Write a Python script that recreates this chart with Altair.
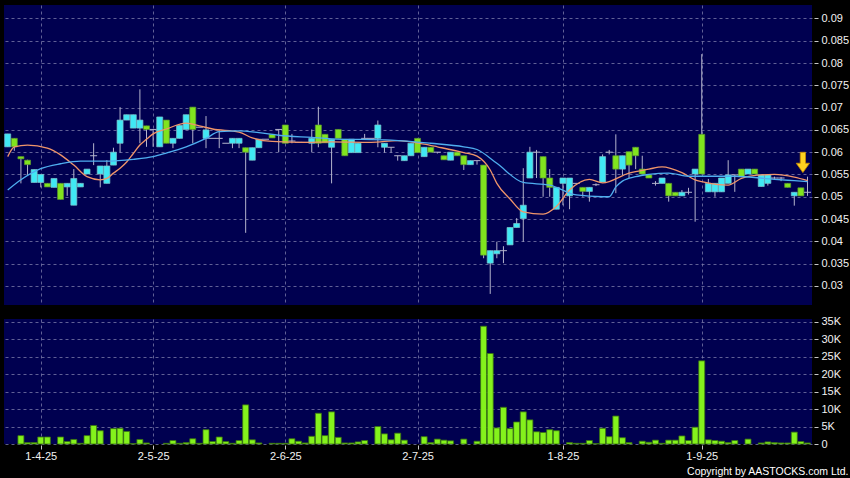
import altair as alt
import pandas as pd

# ---------------- data ----------------
opens = [
    0.0612, 0.0631, 0.0590, 0.0582, 0.0532, 0.0532, 0.0530, 0.0521, 0.0530, 0.0522,
    0.0481, 0.0522, 0.0551, 0.0592, 0.0551, 0.0530, 0.0571, 0.0620, 0.0672, 0.0654,
    0.0654, 0.0659, 0.0651, 0.0612, 0.0672, 0.0620, 0.0631, 0.0651, 0.0701, 0.0656,
    0.0631, 0.0631, 0.0631, 0.0620, 0.0620, 0.0620, 0.0610, 0.0582, 0.0610, 0.0629,
    0.0640, 0.0651, 0.0661, 0.0625, 0.0622, 0.0622, 0.0620, 0.0661, 0.0640, 0.0611,
    0.0651, 0.0629, 0.0599, 0.0599, 0.0631, 0.0631, 0.0631, 0.0611, 0.0611, 0.0592,
    0.0581, 0.0592, 0.0631, 0.0590, 0.0611, 0.0600, 0.0592, 0.0582, 0.0600, 0.0592,
    0.0572, 0.0581, 0.0571, 0.0351, 0.0372, 0.0379, 0.0392, 0.0431, 0.0451, 0.0542,
    0.0600, 0.0590, 0.0542, 0.0472, 0.0530, 0.0502, 0.0530, 0.0521, 0.0512, 0.0527,
    0.0533, 0.0600, 0.0592, 0.0562, 0.0601, 0.0611, 0.0562, 0.0549, 0.0530, 0.0530,
    0.0530, 0.0510, 0.0502, 0.0510, 0.0551, 0.0640, 0.0511, 0.0511, 0.0511, 0.0530,
    0.0549, 0.0562, 0.0551, 0.0562, 0.0523, 0.0530, 0.0542, 0.0542, 0.0530, 0.0502,
    0.0520, 0.0510]
highs = [
    0.0641, 0.0631, 0.0590, 0.0583, 0.0561, 0.0550, 0.0530, 0.0541, 0.0530, 0.0530,
    0.0562, 0.0530, 0.0562, 0.0620, 0.0569, 0.0582, 0.0610, 0.0701, 0.0684, 0.0684,
    0.0741, 0.0659, 0.0651, 0.0679, 0.0672, 0.0631, 0.0660, 0.0684, 0.0701, 0.0656,
    0.0681, 0.0631, 0.0650, 0.0620, 0.0631, 0.0631, 0.0610, 0.0610, 0.0629, 0.0629,
    0.0640, 0.0651, 0.0661, 0.0641, 0.0622, 0.0622, 0.0651, 0.0702, 0.0640, 0.0629,
    0.0651, 0.0629, 0.0629, 0.0620, 0.0641, 0.0631, 0.0671, 0.0620, 0.0611, 0.0592,
    0.0592, 0.0620, 0.0631, 0.0611, 0.0611, 0.0600, 0.0592, 0.0600, 0.0600, 0.0592,
    0.0581, 0.0581, 0.0571, 0.0379, 0.0399, 0.0389, 0.0431, 0.0452, 0.0564, 0.0612,
    0.0605, 0.0590, 0.0562, 0.0521, 0.0542, 0.0542, 0.0530, 0.0521, 0.0521, 0.0530,
    0.0595, 0.0605, 0.0640, 0.0592, 0.0601, 0.0611, 0.0592, 0.0549, 0.0535, 0.0542,
    0.0530, 0.0510, 0.0515, 0.0520, 0.0562, 0.0820, 0.0540, 0.0530, 0.0542, 0.0582,
    0.0549, 0.0562, 0.0562, 0.0562, 0.0549, 0.0549, 0.0545, 0.0544, 0.0530, 0.0510,
    0.0520, 0.0545]
lows = [
    0.0612, 0.0603, 0.0530, 0.0549, 0.0532, 0.0521, 0.0522, 0.0521, 0.0494, 0.0502,
    0.0481, 0.0522, 0.0551, 0.0571, 0.0521, 0.0530, 0.0571, 0.0599, 0.0672, 0.0654,
    0.0620, 0.0612, 0.0612, 0.0612, 0.0620, 0.0609, 0.0631, 0.0651, 0.0620, 0.0656,
    0.0609, 0.0631, 0.0609, 0.0620, 0.0609, 0.0609, 0.0419, 0.0582, 0.0610, 0.0629,
    0.0632, 0.0600, 0.0620, 0.0620, 0.0622, 0.0622, 0.0600, 0.0611, 0.0621, 0.0530,
    0.0631, 0.0592, 0.0599, 0.0599, 0.0631, 0.0631, 0.0611, 0.0599, 0.0599, 0.0581,
    0.0581, 0.0592, 0.0599, 0.0590, 0.0600, 0.0597, 0.0583, 0.0582, 0.0592, 0.0560,
    0.0572, 0.0572, 0.0362, 0.0282, 0.0362, 0.0351, 0.0392, 0.0431, 0.0399, 0.0542,
    0.0542, 0.0500, 0.0500, 0.0472, 0.0481, 0.0472, 0.0530, 0.0500, 0.0489, 0.0524,
    0.0533, 0.0595, 0.0508, 0.0548, 0.0542, 0.0562, 0.0551, 0.0542, 0.0525, 0.0530,
    0.0489, 0.0502, 0.0502, 0.0505, 0.0444, 0.0551, 0.0511, 0.0500, 0.0511, 0.0530,
    0.0511, 0.0545, 0.0551, 0.0551, 0.0523, 0.0525, 0.0540, 0.0535, 0.0521, 0.0480,
    0.0502, 0.0502]
closes = [
    0.0641, 0.0612, 0.0585, 0.0572, 0.0561, 0.0550, 0.0522, 0.0541, 0.0494, 0.0530,
    0.0541, 0.0530, 0.0562, 0.0592, 0.0569, 0.0569, 0.0600, 0.0672, 0.0684, 0.0684,
    0.0672, 0.0651, 0.0651, 0.0679, 0.0620, 0.0631, 0.0660, 0.0684, 0.0651, 0.0656,
    0.0650, 0.0631, 0.0631, 0.0620, 0.0631, 0.0631, 0.0600, 0.0610, 0.0629, 0.0629,
    0.0632, 0.0651, 0.0620, 0.0625, 0.0622, 0.0622, 0.0631, 0.0620, 0.0621, 0.0629,
    0.0631, 0.0592, 0.0629, 0.0620, 0.0631, 0.0631, 0.0661, 0.0620, 0.0611, 0.0592,
    0.0592, 0.0620, 0.0599, 0.0611, 0.0600, 0.0600, 0.0583, 0.0600, 0.0592, 0.0572,
    0.0581, 0.0581, 0.0369, 0.0379, 0.0379, 0.0379, 0.0431, 0.0440, 0.0481, 0.0600,
    0.0600, 0.0542, 0.0521, 0.0521, 0.0542, 0.0542, 0.0530, 0.0512, 0.0521, 0.0527,
    0.0590, 0.0600, 0.0562, 0.0592, 0.0571, 0.0592, 0.0551, 0.0542, 0.0530, 0.0542,
    0.0502, 0.0502, 0.0510, 0.0510, 0.0562, 0.0551, 0.0530, 0.0530, 0.0542, 0.0549,
    0.0549, 0.0545, 0.0562, 0.0551, 0.0549, 0.0549, 0.0542, 0.0542, 0.0521, 0.0510,
    0.0502, 0.0510]
volumes_k = [
    0, 0, 2.4, 0.4, 0.4, 2.0, 2.0, 0, 2.0, 0.7,
    1.3, 0.2, 2.4, 5.3, 3.8, 0, 4.4, 4.5, 3.6, 0.1,
    1.3, 0.3, 0, 0, 0.2, 1.0, 0.2, 0.4, 1.5, 0.2,
    4.1, 0.7, 2.0, 0.7, 0.2, 1.0, 11.2, 1.2, 0.3, 0,
    0.2, 0.2, 0.2, 1.5, 0.8, 0.3, 2.2, 8.8, 2.4, 9.2,
    1.9, 0.3, 0.3, 0.6, 1.0, 0, 5.0, 2.9, 1.2, 3.1,
    1.1, 0, 0, 2.1, 0.4, 1.4, 1.1, 0.9, 0, 1.4,
    0, 0.8, 33.7, 25.9, 4.6, 10.5, 4.4, 6.3, 9.2, 6.9,
    3.5, 3.3, 4.1, 3.8, 0, 0.4, 0.2, 0.2, 1.0, 0.1,
    4.5, 2.1, 8.0, 1.8, 0.4, 0, 0.8, 0.5, 1.1, 0.2,
    1.1, 1.1, 2.3, 1.0, 4.8, 23.8, 1.2, 1.0, 0.8, 0.4,
    1.0, 0, 1.4, 0, 0.3, 0.6, 0.4, 0.3, 0.3, 3.4,
    0.7, 0.3]

# moving averages (bar index, value)
ma_short_idx = [0, 1, 3, 6, 8, 10, 12, 14, 15, 16, 17, 18, 19, 20, 21, 22, 24, 27, 29, 31,
                35, 37, 40, 45, 49, 55, 59, 63, 65, 69, 71, 73, 74, 76, 78, 81, 83, 85, 88,
                90, 94, 97, 99, 102, 104, 105, 109, 111, 114, 116, 119, 121]
ma_short_val = [0.0590, 0.0612, 0.0616, 0.0609, 0.0594, 0.0571, 0.0545, 0.0538, 0.0541, 0.0553,
                0.0564, 0.0578, 0.0597, 0.0616, 0.0629, 0.0641, 0.0652, 0.0665, 0.0659, 0.0652,
                0.0645, 0.0632, 0.0624, 0.0622, 0.0623, 0.0622, 0.0626, 0.0618, 0.0612, 0.0599,
                0.0591, 0.0560, 0.0530, 0.0495, 0.0466, 0.0461, 0.0478, 0.0515, 0.0539,
                0.0531, 0.0553, 0.0562, 0.0567, 0.0554, 0.0538, 0.0534, 0.0526, 0.0541,
                0.0549, 0.0550, 0.0544, 0.0536]
ma_long_idx = [0, 2, 5, 8, 11, 15, 19, 22, 24, 27, 30, 32, 35, 38, 41, 46, 49, 58, 64, 69,
               71, 74, 78, 82, 86, 90, 91, 92, 93, 95, 97, 100, 103, 110, 116, 119, 121]
ma_long_val = [0.0515, 0.0538, 0.0563, 0.0574, 0.0580, 0.0580, 0.0584, 0.0590, 0.0598, 0.0612,
               0.0631, 0.0646, 0.0648, 0.0644, 0.0638, 0.0633, 0.0630, 0.0627, 0.0620, 0.0612,
               0.0606, 0.0575, 0.0532, 0.0526, 0.0504, 0.0500, 0.0500, 0.0522, 0.0535, 0.0545,
               0.0550, 0.0553, 0.0546, 0.0546, 0.0539, 0.0536, 0.0534]

date_tick_idx = [5, 22, 42, 62, 84, 105]
date_tick_labels = ["1-4-25", "2-5-25", "2-6-25", "2-7-25", "1-8-25", "1-9-25"]
price_ticks = [0.03, 0.035, 0.04, 0.045, 0.05, 0.055, 0.06, 0.065, 0.07, 0.075, 0.08, 0.085, 0.09]
volume_ticks = [0, 5000, 10000, 15000, 20000, 25000, 30000, 35000]
marker_idx = [120.3]
marker_price = [0.0577]

# ---------------- styling ----------------
NAVY = "#000050"
GRID = "#7878A8"
CYAN = "#40E8F4"
CYAN_EDGE = "#7CC4CC"
GREEN = "#80E41E"
GREEN_EDGE = "#5C9A2E"
LIME = "#84F21C"
LIME_EDGE = "#3A7410"
WICK = "#B4B4CC"
ORANGE = "#F0956A"
BLUE = "#4FAEEF"
FONT = "Liberation Sans"

bars = pd.DataFrame({
    "i": list(range(len(opens))),
    "open": opens, "high": highs, "low": lows, "close": closes,
    "vol": [v * 1000 for v in volumes_k],
})
ma_short = pd.DataFrame({"i": ma_short_idx, "ma": ma_short_val})
ma_long = pd.DataFrame({"i": ma_long_idx, "ma": ma_long_val})
marker = pd.DataFrame({"i": marker_idx, "p": marker_price})

PW = 808
xs = alt.Scale(domain=[-0.56, 121.68], nice=False, zero=False, padding=0)
ys = alt.Scale(domain=[0.02571, 0.09302], nice=False, zero=False, padding=0)

x_axis_price = alt.Axis(values=date_tick_idx, labels=False, ticks=False, domain=False,
                        grid=True, title=None)
y_axis_price = alt.Axis(orient="right", values=price_ticks, format="~g", grid=True,
                        title=None, offset=2)


def px(field="i"):
    return alt.X(f"{field}:Q", scale=xs, axis=x_axis_price)


def py(field):
    return alt.Y(f"{field}:Q", scale=ys, axis=y_axis_price)


wicks = alt.Chart(bars).mark_rule(color=WICK, strokeWidth=1).encode(
    x=px(), y=py("low"), y2="high:Q")
bodies = alt.Chart(bars).transform_filter("datum.open != datum.close").transform_calculate(
    blo="min(datum.open, datum.close)", bhi="max(datum.open, datum.close)"
).mark_bar(size=6, strokeWidth=0.7).encode(
    x=px(), y=py("blo"), y2="bhi:Q",
    fill=alt.condition("datum.close > datum.open", alt.value(CYAN), alt.value(GREEN)),
    stroke=alt.condition("datum.close > datum.open", alt.value(CYAN_EDGE), alt.value(GREEN_EDGE)),
)
dojis = alt.Chart(bars).transform_filter("datum.open == datum.close").mark_tick(
    orient="horizontal", size=7, thickness=1, color=WICK, opacity=1
).encode(x=px(), y=py("close"))

line_short = alt.Chart(ma_short).mark_line(color=ORANGE, strokeWidth=1.3, interpolate="monotone").encode(
    x=px(), y=py("ma"))
line_long = alt.Chart(ma_long).mark_line(color=BLUE, strokeWidth=1.3, interpolate="monotone").encode(
    x=px(), y=py("ma"))

ARROW = "M -0.26 -1 L 0.26 -1 L 0.26 0.08 L 0.655 0.08 L 0 1 L -0.655 0.08 L -0.26 0.08 Z"
arrow = alt.Chart(marker).mark_point(shape=ARROW, size=412, filled=True, fill="#FFD21F",
                                     stroke="#C88A00", strokeWidth=0.8, opacity=1).encode(
    x=px(), y=py("p"))

price = alt.layer(wicks, bodies, dojis, line_short, line_long, arrow).properties(width=PW, height=300)

label_expr = " : ".join(f"datum.value == {i} ? '{l}'" for i, l in zip(date_tick_idx, date_tick_labels)) + " : ''"

volume = alt.Chart(bars).transform_filter("datum.vol > 0").mark_bar(
    size=6, fill=LIME, stroke=LIME_EDGE, strokeWidth=0.8
).encode(
    x=alt.X("i:Q", scale=xs, axis=alt.Axis(values=date_tick_idx, labelExpr=label_expr, grid=True,
                                           ticks=True, domain=False, title=None, offset=1,
                                           labelPadding=1, labelFlush=False)),
    y=alt.Y("vol:Q", scale=alt.Scale(domain=[0, 35770], nice=False, padding=0),
            axis=alt.Axis(orient="right", values=volume_ticks, grid=True, title=None, offset=2,
                          labelExpr="datum.value == 0 ? '0' : format(datum.value / 1000, 'd') + 'K'")),
).properties(width=PW, height=125)

chart = alt.vconcat(price, volume, spacing=10).properties(
    background="#000000",
    padding={"left": 4, "top": 5, "right": 0, "bottom": 0},
    title=alt.TitleParams("Copyright by AASTOCKS.com Ltd.", orient="bottom", anchor="end",
                          fontSize=10.5, font=FONT, fontWeight="normal", color="#FFFFFF", offset=6),
).configure_view(fill=NAVY, stroke=None).configure_axis(
    labelColor="#F2F2F2", labelFont=FONT, labelFontSize=11, tickColor="#C8C8C8", tickSize=4,
    gridColor=GRID, gridDash=[3, 3], gridWidth=1, gridOpacity=0.8, domain=False, labelPadding=3,
)

chart.save("out.html", embed_options={
    "renderer": "svg", "actions": False,
    "defaultStyle": "body{margin:0;background:#000;overflow:hidden}",
})
